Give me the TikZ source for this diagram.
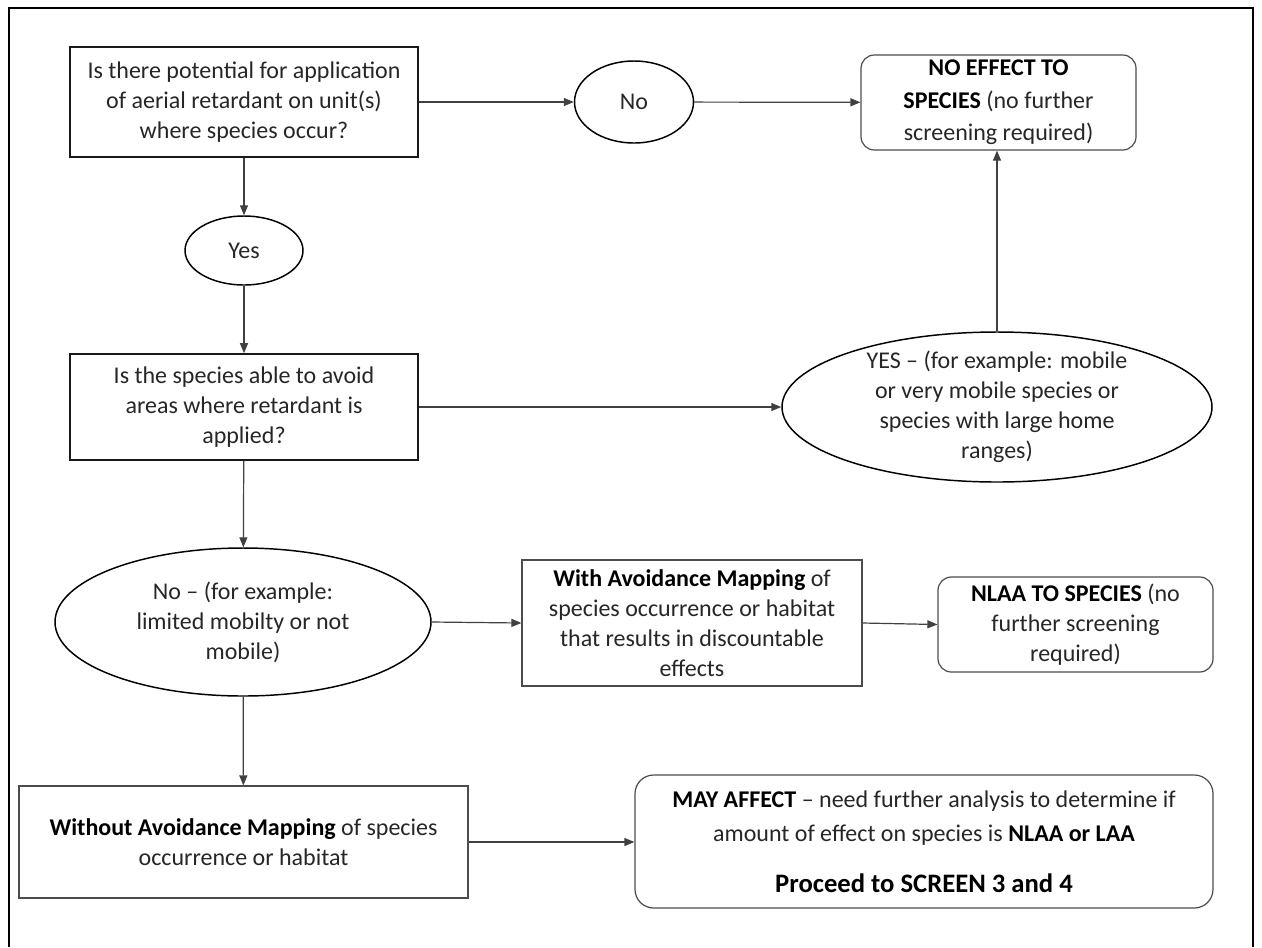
\documentclass[tikz,border=0pt]{standalone}
\usepackage{fontspec}
\setmainfont{Carlito}
\usetikzlibrary{arrows.meta,shapes.geometric}
\definecolor{inkgray}{HTML}{262626}
\definecolor{linegray}{HTML}{404040}
\newcommand{\bterm}[1]{{\bfseries\color{black}#1}}

\begin{document}
\begin{tikzpicture}[x=0.75pt,y=0.75pt,yscale=-1,xscale=1,
    every node/.style={font=\fontsize{18}{22.5}\selectfont, text=inkgray, align=center, inner sep=0pt},
    qbox/.style={draw=black!90, line width=1.2pt, rectangle},
    mapbox/.style={draw=black!70, line width=0.9pt, rectangle},
    endbox/.style={draw=black!70, line width=0.9pt, rectangle, rounded corners=10pt},
    oval/.style={draw=black, line width=1.1pt, ellipse},
    flow/.style={draw=linegray, line width=0.9pt, -{Triangle[length=7.5pt,width=6pt]}}
  ]
\useasboundingbox (0,0) rectangle (1262,947);
% outer frame
\draw[line width=1.5pt] (9,947) -- (9,8) -- (1253,8) -- (1253,947);

% first question
\node[qbox, minimum width=261pt, minimum height=82.5pt] (potential) at (244,102) {Is there potential for application\\of aerial retardant on unit(s)\\where species occur?};
\node[oval, minimum width=89.25pt, minimum height=61.5pt] (nopot) at (634,102) {No};
\node[endbox, minimum width=206.25pt, minimum height=71.25pt, font=\fontsize{18}{24.5}\selectfont] (noeffect) at (998.5,102.5) {\bterm{NO EFFECT TO}\\\bterm{SPECIES} (no further\\screening required)};
\node[oval, minimum width=88.5pt, minimum height=51.75pt] (yespot) at (244,250.5) {Yes};

% second question
\node[qbox, minimum width=261pt, minimum height=79.5pt] (avoid) at (244,407) {Is the species able to avoid\\areas where retardant is\\applied?};
\node[oval, minimum width=322.5pt, minimum height=112.5pt] (mobile) at (997,407) {};
\node (mobiletext) at (mobile) {YES -- (for example: mobile\\or very mobile species or\\species with large home\\ranges)};
\node[oval, minimum width=282pt, minimum height=111pt] (notmobile) at (243,622) {No -- (for example:\\limited mobilty or not\\mobile)};

% mapping branches
\node[mapbox, minimum width=255pt, minimum height=94.5pt] (withmap) at (692,623) {\bterm{With Avoidance Mapping} of\\species occurrence or habitat\\that results in discountable\\effects};
\node[endbox, minimum width=206.25pt, minimum height=71.25pt] (nlaa) at (1075.5,624.5) {\bterm{NLAA TO SPECIES} (no\\further screening\\required)};
\node[mapbox, minimum width=336.75pt, minimum height=84pt] (withoutmap) at (243.5,842) {\bterm{Without Avoidance Mapping} of species\\occurrence or habitat};
\node[endbox, rounded corners=14pt, minimum width=433.5pt, minimum height=99.75pt, font=\fontsize{18}{25.5}\selectfont] (mayaffect) at (924,841.5) {\bterm{MAY AFFECT} -- need further analysis to determine if\\amount of effect on species is \bterm{NLAA or LAA}\\[13pt]{\fontsize{20}{22}\selectfont\bterm{Proceed to SCREEN 3 and 4}}};

% connectors
\draw[flow] (potential) -- (nopot);
\draw[flow] (nopot) -- (noeffect);
\draw[flow] (potential) -- (yespot);
\draw[flow] (yespot) -- (avoid);
\draw[flow] (avoid.east) -- (mobile.west);
\draw[flow] (mobile.north) -- (noeffect.south -| mobile.north);
\draw[flow] (avoid) -- (notmobile);
\draw[flow] (notmobile.east) -- (withmap.west);
\draw[flow] (withmap.east) -- (nlaa.west);
\draw[flow] (notmobile) -- (withoutmap);
\draw[flow] (withoutmap.east) -- (mayaffect.west |- withoutmap.east);
\end{tikzpicture}
\end{document}
